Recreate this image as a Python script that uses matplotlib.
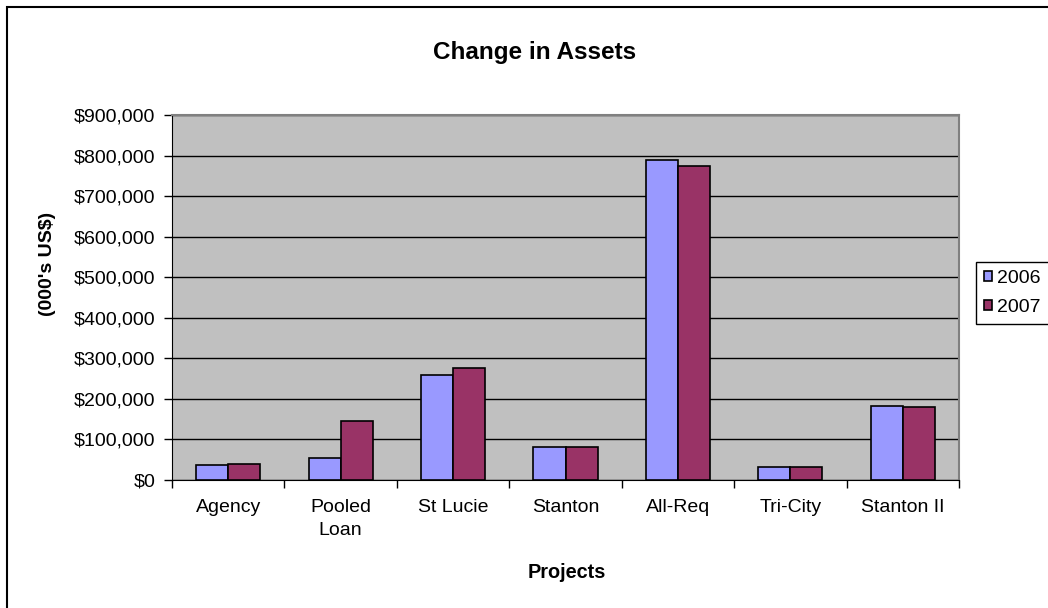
import matplotlib
matplotlib.use('Agg')
import matplotlib.pyplot as plt
from matplotlib.ticker import FuncFormatter, FixedLocator
from matplotlib.patches import Rectangle
import numpy as np

plt.rcParams['font.family'] = ['Liberation Sans', 'DejaVu Sans']

# Data
projects = ['Agency', 'Pooled\nLoan', 'St Lucie', 'Stanton', 'All-Req', 'Tri-City', 'Stanton II']
assets_2006 = [36000, 55000, 259000, 81000, 789000, 31000, 183000]
assets_2007 = [40000, 145000, 277000, 81000, 774000, 31000, 180000]
series_names = ['2006', '2007']
y_ticks = [0, 100000, 200000, 300000, 400000, 500000, 600000, 700000, 800000, 900000]

W, H = 1048, 608
fig = plt.figure(figsize=(W / 100, H / 100), dpi=100)

# outer chart frame (only left/top visible in the reference)
fig.patches.append(Rectangle((7 / W, -0.1), 1.2, 1 - 7 / H + 0.1, transform=fig.transFigure,
                             fill=False, edgecolor='black', linewidth=1.5))

ax = fig.add_axes([172 / W, 1 - 480 / H, (959 - 172) / W, (480 - 115) / H])
ax.set_facecolor('#C0C0C0')

x = np.arange(len(projects))
bw = 0.2857
ax.bar(x - bw / 2, assets_2006, bw, color='#9999FF', edgecolor='black', linewidth=1.2,
       label=series_names[0], zorder=3)
ax.bar(x + bw / 2, assets_2007, bw, color='#993366', edgecolor='black', linewidth=1.2,
       label=series_names[1], zorder=3)

ax.set_xlim(-0.5, len(projects) - 0.5)
ax.set_ylim(0, 900000)
ax.set_yticks(y_ticks)
ax.yaxis.set_major_formatter(FuncFormatter(lambda v, p: '${:,.0f}'.format(v)))
ax.grid(axis='y', color='black', linewidth=1, zorder=1)

# category labels centred, tick marks between categories
ax.set_xticks(x)
ax.set_xticklabels(projects, fontsize=14, linespacing=1.4, va='top')
ax.tick_params(axis='x', length=0, pad=14)
ax.xaxis.set_minor_locator(FixedLocator(np.arange(-0.5, len(projects), 1.0)))
ax.tick_params(axis='x', which='minor', length=6, width=1, color='black')
ax.tick_params(axis='y', length=6, width=1, labelsize=14, pad=6)

for side in ['top', 'right']:
    ax.spines[side].set_color('#808080')
    ax.spines[side].set_linewidth(1.5)
ax.spines['left'].set_color('black')
ax.spines['bottom'].set_color('black')

fig.text(535 / W, 1 - 52 / H, 'Change in Assets', ha='center', va='center',
         fontsize=17.5, fontweight='bold')
fig.text(47 / W, 1 - 264 / H, "(000's US$)", ha='center', va='center', rotation=90,
         fontsize=14, fontweight='bold')
fig.text(567 / W, 1 - 572 / H, 'Projects', ha='center', va='center',
         fontsize=14.3, fontweight='bold')

leg = fig.legend(loc='upper left', bbox_to_anchor=(976 / W, 1 - 262 / H), fontsize=14,
                 fancybox=False, edgecolor='black', framealpha=1, handlelength=0.42,
                 handleheight=0.42, handletextpad=0.25, borderpad=0.42, labelspacing=0.6,
                 borderaxespad=0)
leg.get_frame().set_linewidth(1)

fig.savefig('out.png', dpi=100)
